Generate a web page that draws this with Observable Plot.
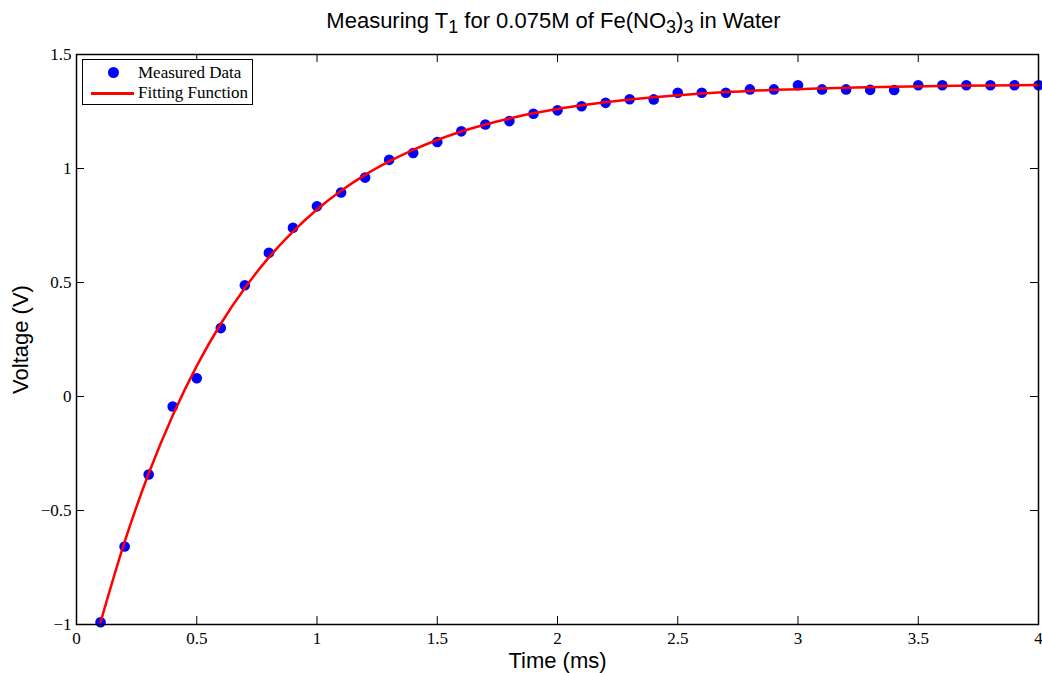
<!DOCTYPE html>
<html>
<head>
<meta charset="utf-8">
<script src="https://cdn.jsdelivr.net/npm/d3@7"></script>
<script src="https://cdn.jsdelivr.net/npm/@observablehq/plot@0.6"></script>
<style>
  html, body { margin: 0; padding: 0; background: #fff; }
  #wrap { position: relative; width: 1042px; height: 673px; }
  #title { height: 44px; box-sizing: border-box; padding: 10px 11px 0 76px; text-align: center; white-space: nowrap;
           font-family: "Liberation Sans", Arial, sans-serif; font-size: 22px; color: #000; line-height: 22px; }
  #title sub { font-size: 18px; vertical-align: -5px; line-height: 0; }
  #legend { position: absolute; left: 82px; top: 59px; width: 171px; height: 46px; box-sizing: border-box;
            border: 1px solid #000; background: #fff; font-family: "Liberation Serif", "Times New Roman", serif;
            font-size: 17px; color: #000; }
  .row { position: absolute; left: 0; height: 20px; width: 100%; }
  .row .lab { position: absolute; left: 55px; top: 0; line-height: 20px; white-space: nowrap; }
  .dot { position: absolute; left: 25px; top: 4px; width: 11px; height: 11px; border-radius: 50%; background: #0000ff; }
  .ln { position: absolute; left: 8px; top: 9px; width: 43px; height: 3px; background: #ff0000; }
</style>
</head>
<body>
<div id="wrap">
  <div id="title">Measuring T<sub>1</sub> for 0.075M of Fe(NO<sub>3</sub>)<sub>3</sub> in Water</div>
  <div id="chart"></div>
  <div id="legend">
    <div class="row" style="top:3px"><span class="dot"></span><span class="lab">Measured Data</span></div>
    <div class="row" style="top:23px"><span class="ln"></span><span class="lab">Fitting Function</span></div>
  </div>
</div>
<script>
// Measured data: time (ms) and voltage (V)
const measuredTime = [0.1,0.2,0.3,0.4,0.5,0.6,0.7,0.8,0.9,1.0,1.1,1.2,1.3,1.4,1.5,1.6,1.7,1.8,1.9,2.0,
                      2.1,2.2,2.3,2.4,2.5,2.6,2.7,2.8,2.9,3.0,3.1,3.2,3.3,3.4,3.5,3.6,3.7,3.8,3.9,4.0];
const measuredVoltage = [-0.99,-0.658,-0.342,-0.044,0.080,0.300,0.488,0.630,0.740,0.834,0.895,0.960,1.038,1.068,1.116,1.163,1.193,1.208,1.240,1.255,
                         1.273,1.288,1.304,1.303,1.332,1.332,1.332,1.347,1.347,1.365,1.347,1.347,1.345,1.344,1.365,1.365,1.365,1.365,1.365,1.365];

// Fitting function
const fitTime = [0.1,0.2,0.3,0.4,0.5,0.6,0.7,0.8,0.9,1.0,1.1,1.2,1.3,1.4,1.5,1.6,1.7,1.8,1.9,2.0,
                 2.1,2.2,2.3,2.4,2.5,2.6,2.7,2.8,2.9,3.0,3.2,3.4,3.6,3.8,4.0];
const fitVoltage = [-0.990,-0.638,-0.338,-0.083,0.134,0.319,0.476,0.610,0.723,0.820,0.902,0.972,1.031,1.082,1.125,1.162,1.193,1.219,1.242,1.261,
                    1.277,1.291,1.303,1.313,1.321,1.329,1.335,1.340,1.345,1.348,1.354,1.359,1.362,1.364,1.366];

const xTicks = [0,0.5,1,1.5,2,2.5,3,3.5,4];
const yTicks = [-1,-0.5,0,0.5,1,1.5];

const measured = measuredTime.map((t, i) => ({t, v: measuredVoltage[i]}));
const fit = fitTime.map((t, i) => ({t, v: fitVoltage[i]}));

const W = 1042, H = 629, mT = 10, mB = 49, mL = 76, mR = 4;
const innerH = H - mT - mB, innerW = W - mL - mR;
const serif = "Liberation Serif, Times New Roman, serif";
const sans = "Liberation Sans, Arial, sans-serif";
const fmt = d => d < 0 ? "\u2212" + Math.abs(d) : String(d);

const chart = Plot.plot({
  width: W, height: H,
  marginTop: mT, marginBottom: mB, marginLeft: mL, marginRight: mR,
  x: {domain: [0, 4]},
  y: {domain: [-1, 1.5]},
  marks: [
    Plot.axisX({ticks: xTicks, tickSize: 0, tickPadding: 7, tickFormat: fmt, label: null, fontSize: 17, fontFamily: serif, fill: "#000"}),
    Plot.axisY({ticks: yTicks, tickSize: 0, tickPadding: 5, tickFormat: fmt, label: null, fontSize: 17, fontFamily: serif, fill: "#000"}),
    Plot.tickX(xTicks, {x: d => d, insetTop: innerH - 8, stroke: "#000", strokeWidth: 1}),
    Plot.tickX(xTicks, {x: d => d, insetBottom: innerH - 8, stroke: "#000", strokeWidth: 1}),
    Plot.tickY(yTicks, {y: d => d, insetRight: innerW - 8, stroke: "#000", strokeWidth: 1}),
    Plot.tickY(yTicks, {y: d => d, insetLeft: innerW - 8, stroke: "#000", strokeWidth: 1}),
    Plot.dot(measured, {x: "t", y: "v", r: 5.3, fill: "#0000ff", stroke: "none"}),
    Plot.line(fit, {x: "t", y: "v", stroke: "#ff0000", strokeWidth: 2.5, curve: "monotone-x"}),
    Plot.frame({stroke: "#000", strokeWidth: 1.5}),
    Plot.text(["Time (ms)"], {frameAnchor: "bottom", dy: 36, textAnchor: "middle", lineAnchor: "middle", fontSize: 22, fontFamily: sans, fill: "#000"}),
    Plot.text(["Voltage (V)"], {frameAnchor: "left", dx: -56, rotate: -90, textAnchor: "middle", lineAnchor: "middle", fontSize: 22, fontFamily: sans, fill: "#000"})
  ]
});
document.getElementById("chart").appendChild(chart);
</script>
</body>
</html>
